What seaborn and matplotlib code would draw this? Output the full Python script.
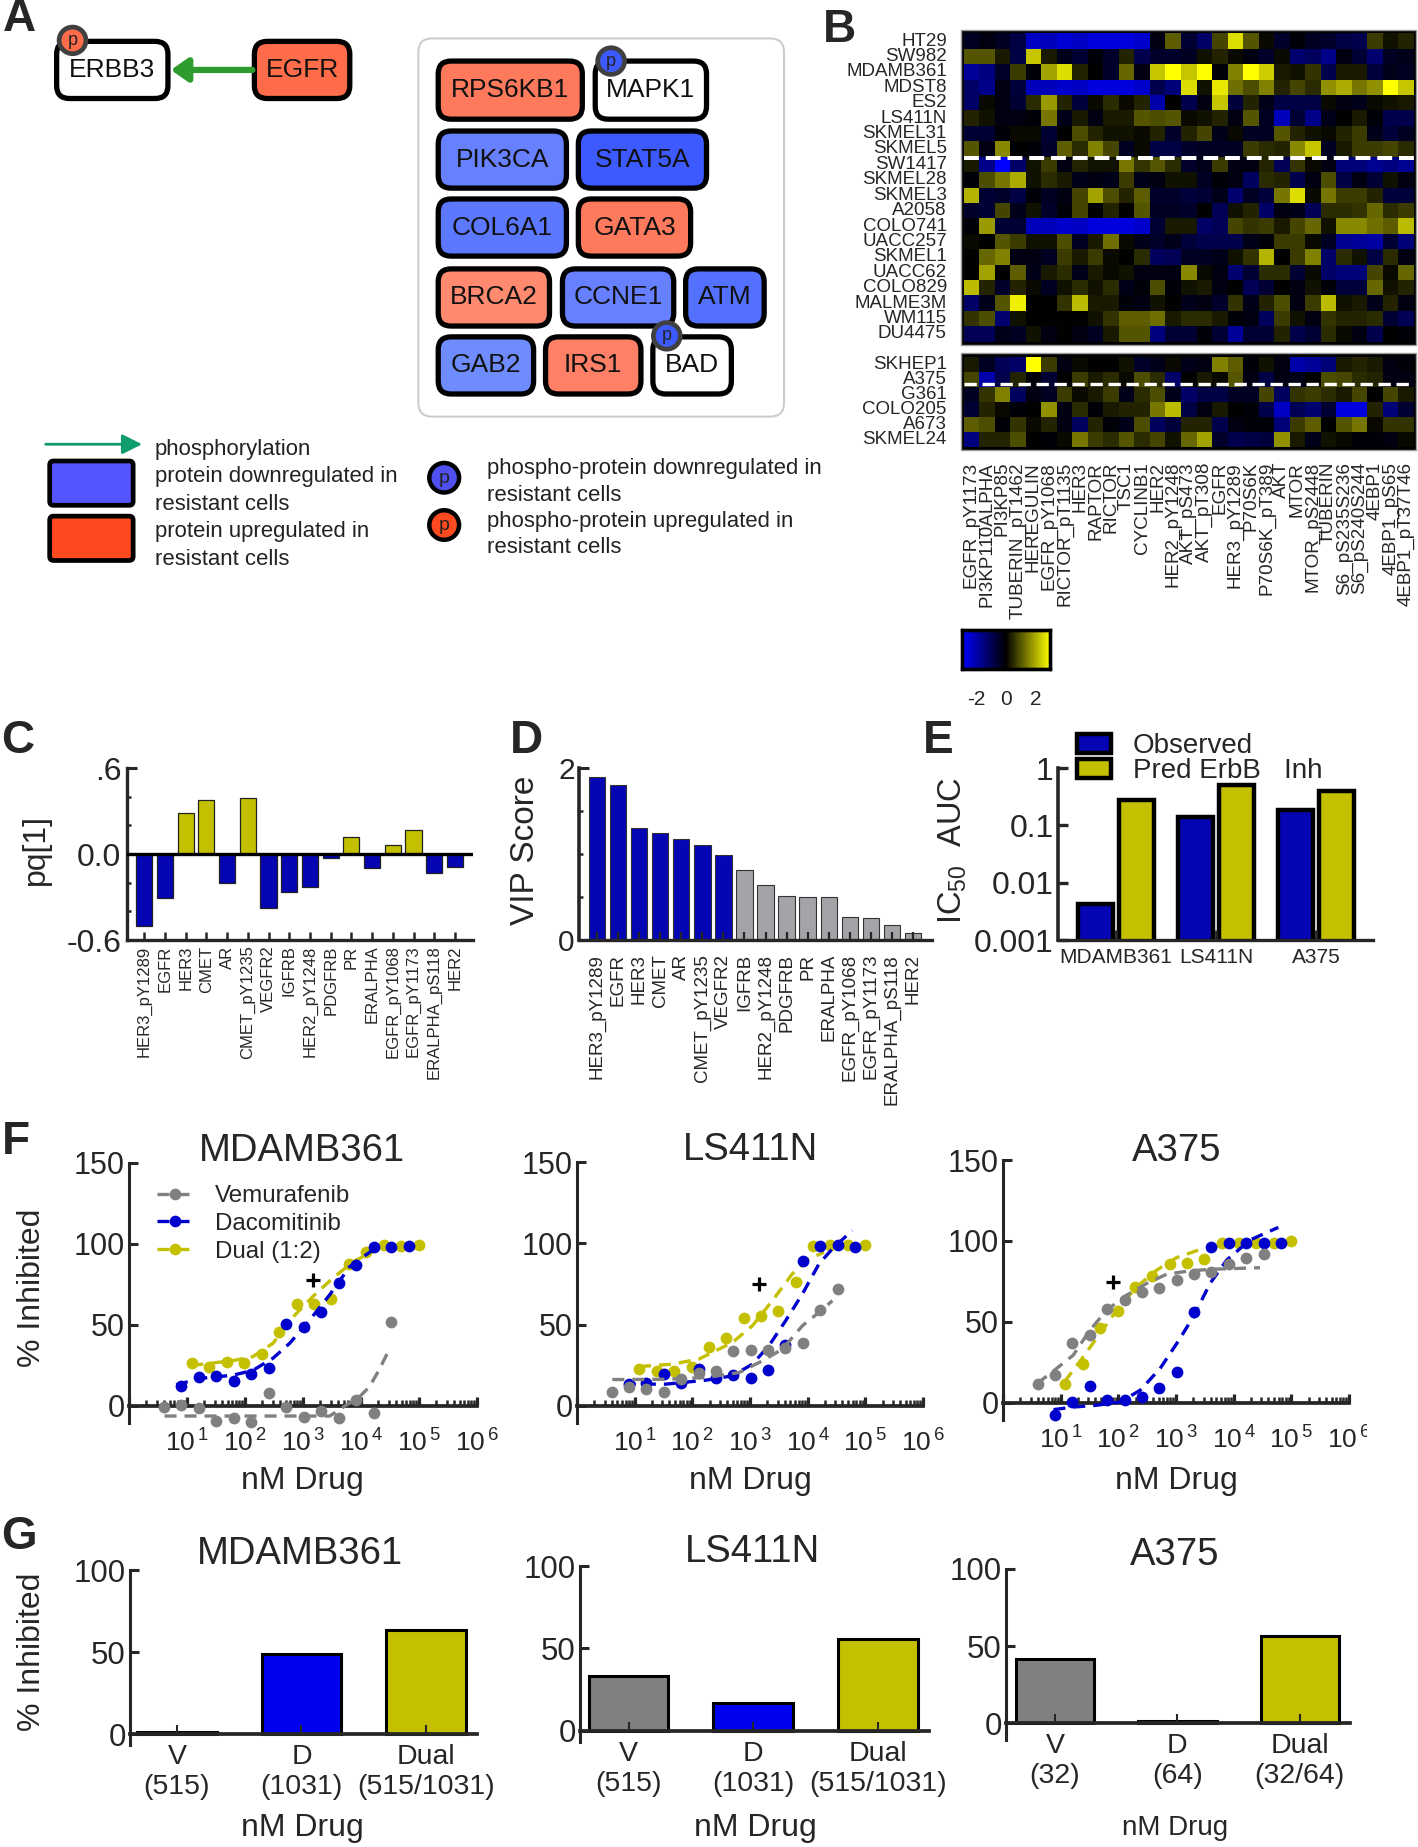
import numpy as np
import pandas as pd
import matplotlib
matplotlib.use("Agg")
import matplotlib.pyplot as plt
import seaborn as sns
from matplotlib.colors import LinearSegmentedColormap
from matplotlib.lines import Line2D
from matplotlib.patches import FancyBboxPatch, Patch, Rectangle, Circle
from matplotlib.ticker import LogLocator, NullFormatter
from matplotlib.transforms import Bbox

W, H = 1418, 1847

# panel B
cell_lines_top = ["HT29", "SW982", "MDAMB361", "MDST8", "ES2", "LS411N", "SKMEL31", "SKMEL5", "SW1417", "SKMEL28",
                  "SKMEL3", "A2058", "COLO741", "UACC257", "SKMEL1", "UACC62", "COLO829", "MALME3M", "WM115", "DU4475"]
cell_lines_bottom = ["SKHEP1", "A375", "G361", "COLO205", "A673", "SKMEL24"]
heat_proteins = ["EGFR_pY1173", "PI3KP110ALPHA", "PI3KP85", "TUBERIN_pT1462", "HEREGULIN", "EGFR_pY1068",
                 "RICTOR_pT1135", "HER3", "RAPTOR", "RICTOR", "TSC1", "CYCLINB1", "HER2", "HER2_pY1248", "AKT_pS473",
                 "AKT_pT308", "EGFR", "HER3_pY1289", "P70S6K", "P70S6K_pT389", "AKT", "MTOR", "MTOR_pS2448", "TUBERIN",
                 "S6_pS235S236", "S6_pS240S244", "4EBP1", "4EBP1_pS65", "4EBP1_pT37T46"]
heat_top = [
    [-.4, -.2, -.4, -.8, -2.3, -2.2, -2.5, -2.3, -2.6, -2.6, -2.6, -2.4, -.2, 1.1, -.6, -1.2, .8, 2.6, 1, .1, -.5, -.1, -.4, -.5, -.8, -.9, .7, .2, .4],
    [1, 1, .3, -.8, 2.3, .3, -.3, -.6, -.1, -.5, .4, -.9, -.5, -.5, -.4, .2, .4, .1, -.2, -.5, .1, -1.3, -1.1, -1.6, -.2, -.6, -1.3, -.4, -.3],
    [-1.8, -1.5, -.5, .7, -.1, 1.9, 2.6, .4, 0, -.5, 1.2, -.2, 2.3, 3, 2.3, 3, -.1, 1.5, 3, 2.4, .3, .2, .6, -.9, .3, .3, -.7, -.3, -.4],
    [-1.2, -1.6, -.2, -.7, -2.2, -2.2, -2.4, -2.3, -2.6, -2.6, -2.6, -2.4, -.9, -1.4, 2.6, .2, 2.7, 1.3, .9, 1.5, .4, .8, .5, 1.7, 2, 1.4, 1.7, 3, 2.3],
    [-1.2, .1, -.2, -.6, .5, 1.8, .4, -.7, .1, .5, .1, .4, -2, 0, -.9, -.2, 2.3, -.7, .4, -.3, -.8, -.8, -.8, .1, -.2, -.3, .1, .2, .3],
    [.4, .2, -.2, -.2, -.1, 1.4, -.3, .3, -.2, .3, .3, 1, .9, 1, .1, .2, .4, -.2, 1, -.4, -2.2, -.6, -1.6, -.3, 0, .3, -.1, -.9, -.9],
    [-.6, -.6, -.1, .1, .1, -.6, 0, .9, .4, .2, .2, .1, .4, -.5, .4, .8, -.3, .1, -.4, -.4, 1, .4, .2, .1, .4, .7, -.3, -.7, -.4],
    [1, -.2, 1.6, 0, -.1, -.5, 1.1, .5, 1.5, .8, -.4, .1, -.8, -.8, -.5, -.4, -.4, -.4, .7, .5, .4, 1.6, 2.3, -.4, .3, .7, .7, .8, .5],
    [.3, -1.6, -3, -1.2, .2, .7, -.2, .4, .2, .2, 1.4, .6, 1, .5, -.5, -.3, .7, -.2, -.2, .4, -1, .6, .1, -.2, -1.4, -1.4, -1.7, -1.5, -1.7],
    [-.1, .9, 1.4, 2, .2, .5, .3, -.3, -.2, -.3, .7, -.3, -.2, .2, .2, -.4, -.1, -.2, -1.1, .5, .4, -.9, -.2, .9, -.8, -.2, -.6, .2, -.2],
    [2.1, -.6, -.5, -.8, -.1, -.4, -.2, .8, 1.9, .9, .4, 1.1, -.5, -.5, -.7, -.6, -.3, -1.3, -.4, -.7, 1.4, 2.6, .1, 1.4, .7, .7, .4, -.7, -.7],
    [-.5, -.6, .8, -.3, .2, -.5, -.1, .8, 0, .4, 0, 1, -.4, -.4, -.5, 0, -1, .2, .4, -1.2, -.2, -.3, -1, .5, .5, .6, 1.2, .5, .7],
    [-.1, 1.8, -.6, -.6, -2.2, -2.2, -2.4, -2.3, -2.6, -2.6, -2.6, -2.4, -.6, .3, .3, -1.2, -1, .8, .6, .7, .3, .8, 1.2, .2, 1.6, 1.6, 1.3, 1.1, 2.2],
    [.1, 0, 1, .7, .2, .2, .9, -.4, .3, 1.3, .1, -.3, -.5, -.3, -.7, -.9, -.9, -.9, -.3, -.1, .7, .7, .1, -.4, -1.7, -1.8, -1.9, -.6, -1.4],
    [0, 1.2, 1.5, -.2, -.2, -.4, .7, .3, .7, .1, 0, .5, -1.1, -1, -.4, -.4, -.3, .2, .6, 2.1, 0, .7, 1.5, -1.2, .5, .2, -.8, .5, -.2],
    [0, 1.9, 0, 1.1, -.3, .3, .5, -.3, .3, .1, .2, -.2, -.2, -.2, 1.6, .1, -.2, -1.3, -.6, .5, .5, -.6, .1, -1.2, -1.4, -1.4, .8, .1, 1.2],
    [2.2, .4, -.5, .4, .1, -.4, .2, .5, .2, .5, -.3, -.1, .9, -.1, .2, .3, -.2, 0, -1, -.6, 0, -.2, .2, -.1, -.7, -.7, 1.2, .2, .4],
    [-1.2, -.3, 1, 2.8, 0, 0, .6, 2.2, .3, .3, -.1, -.2, .2, 0, -.3, -.2, -.5, .6, -.3, .4, .9, -.2, .7, 2.2, .2, .3, -.3, .4, -.2],
    [.6, .9, -1.3, .2, 0, 0, 0, 0, .2, .6, 1.1, 1.1, 1.3, .3, .5, .5, .3, -.1, -.2, -1.1, .7, .2, -.2, .6, .4, .4, .5, -.6, -1],
    [-1, -1, -.3, -.4, .2, -.2, 0, -.2, -.4, .3, 1, 1, -1.5, -.6, -.6, -.1, -.6, -1.8, -.6, -.6, .4, -.9, -.6, .5, .1, -.2, -.9, 0, -.1],
]
heat_bottom = [
    [.3, -.4, -1, -1.2, 3, .7, -.2, .1, 0, 0, .2, -.5, -.3, .1, -.3, -.2, 1.5, 1.1, -.1, .2, -.2, -2, -1.8, -1.4, .3, .4, .3, -.2, -.1],
    [.8, -2, -.9, .4, -.1, -.6, 0, .7, .3, .5, .1, .9, .5, -1.2, 0, .3, .1, 1, -.2, -.8, -.2, -.3, 0, .9, .8, .5, .4, -.2, -.2],
    [-.4, .6, 1.5, -1.1, -.2, -.4, .7, .1, .3, .7, -.3, .5, .9, -.3, -1.2, -.8, -.8, -.4, -.4, .8, -1.1, .6, .7, .5, .3, .8, 0, .8, .3],
    [-.6, .4, .1, -.1, 0, 1.7, -.2, .5, -.1, .3, .4, .4, 1.4, 2.2, -.8, -.2, .3, 0, -.1, -.9, -2.3, -1, -1.3, -.6, -2.6, -2.6, .4, -1.4, -.6],
    [1.1, .9, -.1, .6, .1, .4, -.2, -1.1, .4, -.1, -.3, .9, -1.1, -.7, .4, .4, -.9, -.2, -.1, -.1, -1.4, .7, 1.1, 0, 1, 1.4, .1, .6, .6],
    [-1.5, .4, .4, .9, 0, -.1, .1, 1.4, .7, .5, 1, .5, .8, .2, 1.2, 1.9, -.5, -.9, -.8, -.7, 1.7, .3, -.3, .2, .1, -.1, -.1, -.2, .1],
]

# panels C and D
rtk_names = ["HER3_pY1289", "EGFR", "HER3", "CMET", "AR", "CMET_pY1235", "VEGFR2", "IGFRB", "HER2_pY1248", "PDGFRB",
             "PR", "ERALPHA", "EGFR_pY1068", "EGFR_pY1173", "ERALPHA_pS118", "HER2"]
pq_values = [-.50, -.31, .285, .378, -.20, .39, -.378, -.267, -.227, -.03, .116, -.095, .065, .17, -.13, -.088]
vip_values = [1.90, 1.80, 1.30, 1.24, 1.18, 1.11, .99, .81, .64, .515, .50, .50, .27, .26, .175, .08]

# panel E
auc_lines = ["MDAMB361", "LS411N", "A375"]
auc_observed = [.0042, .14, .188]
auc_predicted = [.274, .50, .398]

# panel F, doses in nM
vem_dose = [4, 8, 16, 32, 64, 129, 258, 515, 1031, 2062, 4125, 8250, 16500, 33000]
dac_dose = [8, 16, 32, 64, 129, 258, 515, 1031, 2062, 4125, 8250, 16500, 33000, 66000]
dual_dose = [12, 24, 48, 97, 193, 387, 773, 1546, 3094, 6187, 12375, 24750, 49500, 99000]

mda_vem = [-.4, .6, -1.4, -9.1, -7.2, -10, 7.8, -.4, -6.6, -2.9, -7.6, 3.7, -4.1, 51.9]
mda_dac = [12.4, 17.7, 18.5, 15.7, 19.6, 23.7, 50.5, 49, 58.3, 76.2, 87.2, 98.1, 98.1, 98.5]
mda_dual = [26.4, 24.3, 27, 26.8, 32.1, 45.5, 63, 63, 66.1, 87.8, 95.2, 99.5, 98.9, 99.5]
ls_vem = [8.6, 11.9, 10.3, 8.6, 16.4, 20.5, 21.6, 33.5, 34.3, 34.3, 35.5, 38.6, 59.2, 72.1]
ls_dac = [13.4, 14.4, 19.5, 14, 22.6, 17, 18.9, 17, 22, 37.6, 89.4, 98.4, 98.8, 98]
ls_dual = [22.6, 21.2, 21.2, 24, 36.4, 41.7, 53.8, 55, 58.6, 76.4, 98.4, 99.2, 99.2, 99.2]
a375_vem = [12, 17.1, 37.1, 41.8, 58.3, 63.5, 68.6, 70.7, 75.8, 79.7, 81, 85.7, 89.2, 91.9]
a375_dac = [-7.4, .4, 10.3, 2.1, 2.1, 3.7, 9.5, 19.2, 56.3, 96.4, 98.9, 98.9, 98.9, 98.5]
a375_dual = [11.5, 24.3, 46, 56.9, 71.7, 78.3, 85.7, 86.5, 88.6, 98.9, 98.9, 98.9, 98.9, 99.9]

# dashed fits
mda_vem_fit_x = [4.1, 2900, 5600, 8860, 14100, 21000, 30400]
mda_vem_fit_y = [-6.2, -6.2, .6, 4.7, 12, 23, 34.6]
mda_dac_fit_x = [6.5, 16.5, 62, 137, 304, 589, 1300, 2880, 6380, 16100]
mda_dac_fit_y = [13, 17, 19, 22, 29.5, 38.7, 53, 68.6, 86, 96.4]
mda_dual_fit_x = [11.9, 62, 137, 304, 675, 1480, 3290, 7280, 18400]
mda_dual_fit_y = [25, 28, 30.5, 38.7, 55, 67.6, 79, 89, 96.4]
ls_vem_fit_x = [4.1, 34.5, 170, 645, 1640, 3640, 8090, 15700, 26800]
ls_vem_fit_y = [16.2, 16.4, 17.5, 20.5, 27.7, 34.9, 49.3, 57.5, 64.7]
ls_dac_fit_x = [6.5, 34.5, 170, 494, 1100, 2130, 4150, 8090, 15700, 26800, 59500]
ls_dac_fit_y = [13.4, 13.4, 15.8, 18.5, 25.7, 37, 52.4, 68.8, 87.3, 96.6, 107.9]
ls_dual_fit_x = [11.9, 45, 130, 494, 1100, 2440, 5420, 10500, 19200]
ls_dual_fit_y = [24.2, 25.7, 28.8, 39, 49.3, 64.7, 81.2, 90.4, 94.5]
a375_vem_fit_x = [3.9, 7.5, 16.5, 32, 63, 140, 310, 689, 1750, 4440, 28600]
a375_vem_fit_y = [12, 19.8, 29.5, 44.9, 57.3, 66.6, 73.8, 79.5, 81.6, 82.6, 83.5]
a375_dac_fit_x = [7.5, 16.5, 42, 107, 238, 528, 1030, 2000, 3890, 7560, 19200, 59500]
a375_dac_fit_y = [-4.1, -2.5, -1.4, .6, 7.8, 21.2, 36.7, 53.2, 73.8, 88.2, 100.6, 108.4]
a375_dual_fit_x = [11.6, 23.4, 48, 94, 208, 462, 1030, 2280, 5070, 8630]
a375_dual_fit_y = [13, 27.4, 42.9, 57.3, 71.7, 82, 89.8, 94, 96.4, 97.5]

plus_dose = [1487, 1450, 82]
plus_value = [77.9, 75, 74.4]

# panel G
mda_bar_labels = ["V\n(515)", "D\n(1031)", "Dual\n(515/1031)"]
ls_bar_labels = ["V\n(515)", "D\n(1031)", "Dual\n(515/1031)"]
a375_bar_labels = ["V\n(32)", "D\n(64)", "Dual\n(32/64)"]
mda_bar_values = [1.4, 48.8, 63.4]
ls_bar_values = [33.2, 17, 55.5]
a375_bar_values = [41.6, 1.7, 56.7]

# panel A
node_names = ["ERBB3", "EGFR", "RPS6KB1", "MAPK1", "PIK3CA", "STAT5A", "COL6A1", "GATA3", "BRCA2", "CCNE1", "ATM",
              "GAB2", "IRS1", "BAD"]

BAR_BLUE = "#0505B4"
GOLD = "#C4C000"
GREY = "#808080"
PURE_BLUE = "#0000F0"
DOT_BLUE = "#0000CC"

sns.set_style("ticks")
plt.rcParams["font.family"] = ["Liberation Sans", "DejaVu Sans"]
plt.rcParams["mathtext.default"] = "regular"
plt.rcParams["axes.unicode_minus"] = False

fig = plt.figure(figsize=(W / 100, H / 100), dpi=100)


def px_axes(left, top, right, bottom):
    return fig.add_axes([left / W, 1 - bottom / H, (right - left) / W, (bottom - top) / H])


def place_labels(ax, box, title=None, title_xy=None, title_size=27.5, xlabel=None, xlabel_xy=None, xlabel_size=23,
                 ylabel=None, ylabel_xy=None, ylabel_size=23):
    left, top, right, bottom = box
    def to_axes(xy):
        return (xy[0] - left) / (right - left), (bottom - xy[1]) / (bottom - top)
    if title:
        tx, ty = to_axes(title_xy)
        ax.set_title(title, x=tx, y=ty, fontsize=title_size, va="center", ha="center", pad=0)
    if xlabel:
        ax.set_xlabel(xlabel, fontsize=xlabel_size, va="center", ha="center")
        ax.xaxis.set_label_coords(*to_axes(xlabel_xy))
    else:
        ax.set_xlabel("")
    if ylabel:
        ax.set_ylabel(ylabel, fontsize=ylabel_size, va="center", ha="center")
        ax.yaxis.set_label_coords(*to_axes(ylabel_xy))
    else:
        ax.set_ylabel("")


def base_style(ax, left_w=2.2, bottom_w=2.3):
    sns.despine(ax=ax)
    ax.spines["left"].set_linewidth(left_w)
    ax.spines["bottom"].set_linewidth(bottom_w)
    ax.set_axisbelow(False)


# overlay in pixels for the letters and the heatmap frames
ov = fig.add_axes([0, 0, 1, 1])
ov.set_xlim(0, W)
ov.set_ylim(H, 0)
ov.axis("off")

for letter, lx, ly in [("A", 19, 19), ("B", 839, 30), ("C", 18, 741), ("D", 526, 741), ("E", 938, 741),
                       ("F", 16, 1142), ("G", 19, 1537)]:
    ov.text(lx, ly, letter, fontsize=33, fontweight="bold", ha="center", va="center")

# panel A diagram layer, read at a slightly different scale
ova = fig.add_axes([0, 0, 1, 1])
ova.set_xlim(0, W / .9937)
ova.set_ylim(H / .985, 0)
ova.axis("off")

UP = "#FF6C4A"
node_boxes = [(54, 39, 172, 103, "white"), (253, 39, 355, 103, UP),
              (438, 59, 589, 124, "#FF7A5C"), (596, 59, 714, 124, "white"),
              (438, 130, 573, 194, "#6680FF"), (579, 130, 714, 194, "#3C5AFF"),
              (438, 199, 573, 263, "#5C78FF"), (579, 199, 698, 263, "#FF7A5C"),
              (438, 270, 556, 334, "#FF8A70"), (563, 270, 681, 334, "#6680FF"), (687, 270, 772, 334, "#5470FF"),
              (438, 339, 540, 403, "#6F8CFF"), (546, 339, 648, 403, "#FF8066"), (654, 339, 739, 403, "white")]

ova.add_patch(FancyBboxPatch((421, 39), 368, 384, boxstyle="round,pad=0,rounding_size=14", fc="white", ec="#CCCCCC", lw=1.5))
ova.annotate("", xy=(172, 71), xytext=(254, 71),
             arrowprops=dict(arrowstyle="-|>,head_width=0.35,head_length=0.5", color="#2E9B2E", lw=4.5,
                             mutation_scale=20, shrinkA=0, shrinkB=0))
for name, (x0, y0, x1, y1, colour) in zip(node_names, node_boxes):
    ova.add_patch(FancyBboxPatch((x0 + 3, y0 + 3), x1 - x0 - 6, y1 - y0 - 6, boxstyle="round,pad=0,rounding_size=13",
                                 fc=colour, ec="black", lw=3.8))
    ova.text((x0 + x1) / 2, (y0 + y1) / 2, name, fontsize=19, ha="center", va="center", color="#111111")

for cx, cy, colour in [(73, 41, UP), (615, 62, "#3C5AFF"), (671, 341, "#3C5AFF")]:
    ova.add_patch(Circle((cx, cy), 13.5, fc=colour, ec="#404040", lw=3.4))
    ova.text(cx, cy, "p", fontsize=13, ha="center", va="center", color="#222222")

# panel A key
ova.annotate("", xy=(143, 451), xytext=(46, 451),
             arrowprops=dict(arrowstyle="-|>,head_width=0.3,head_length=0.6", color="#0F9D6B", lw=2,
                             mutation_scale=20, shrinkA=0, shrinkB=0))
for y0, y1, colour in [(466, 515, "#5555FF"), (522, 571, "#FF4A1F")]:
    ova.add_patch(FancyBboxPatch((50, y0 + 2), 84, y1 - y0 - 4, boxstyle="round,pad=0,rounding_size=4", fc=colour,
                                 ec="black", lw=3.4))
for text, tx, ty in [("phosphorylation", 156, 456), ("protein downregulated in", 156, 484), ("resistant cells", 156, 512),
                     ("protein upregulated in", 156, 540), ("resistant cells", 156, 568),
                     ("phospho-protein downregulated in", 490, 476), ("resistant cells", 490, 503),
                     ("phospho-protein upregulated in", 490, 529), ("resistant cells", 490, 556)]:
    ova.text(tx, ty, text, fontsize=15.9, ha="left", va="center", color="#222222")
for cy, colour in [(485, "#5050F0"), (533, "#FF4A1F")]:
    ova.add_patch(Circle((447, cy), 15, fc=colour, ec="black", lw=3.2))
    ova.text(447, cy + 1, "p", fontsize=14, ha="center", va="center", color="#222222")

# panel B frames sit behind the heatmaps
ov.add_patch(Rectangle((961, 30), 455, 315, fc="black", ec="#999999", lw=1))
ov.add_patch(Rectangle((961, 353), 455, 97, fc="black", ec="#999999", lw=1))

heat_cmap = LinearSegmentedColormap.from_list("blue_black_yellow", ["#0000FF", "#000000", "#FFFF00"])
top_df = pd.DataFrame(heat_top, index=cell_lines_top, columns=heat_proteins)
bottom_df = pd.DataFrame(heat_bottom, index=cell_lines_bottom, columns=heat_proteins)

ax_top = px_axes(963.5, 33.3, 1414, 341.7)
ax_bot = px_axes(963.5, 356.7, 1414, 446.7)
cax = px_axes(962, 630, 1050, 669)

sns.heatmap(top_df, ax=ax_top, cmap=heat_cmap, vmin=-3, vmax=3, cbar=True, cbar_ax=cax,
            cbar_kws={"orientation": "horizontal", "ticks": [-2, 0, 2]}, xticklabels=False, yticklabels=True)
sns.heatmap(bottom_df, ax=ax_bot, cmap=heat_cmap, vmin=-3, vmax=3, cbar=False, xticklabels=True, yticklabels=True)
for ax in (ax_top, ax_bot):
    ax.tick_params(axis="y", length=0, pad=12, labelsize=13.5, labelrotation=0)
    ax.tick_params(axis="x", length=0)
ax_bot.tick_params(axis="x", pad=11, labelsize=13.6)
for lab in ax_bot.get_xticklabels():
    lab.set_rotation(90)
    lab.set_ha("center")
    lab.set_va("top")
ax_top.axhline(8.08, color="white", lw=2.9, linestyle=(0, (3.7, 1.7)))
ax_bot.axhline(1.83, color="white", lw=2.4, linestyle=(0, (3.7, 1.7)))

cax.tick_params(axis="x", which="major", direction="in", top=True, bottom=True, length=4.5, width=1.8, color="black",
                labelsize=15, pad=15)
cax.minorticks_off()
for sp in cax.spines.values():
    sp.set_visible(True)
    sp.set_linewidth(2.4)
    sp.set_edgecolor("black")

# panel C
box = (127, 768, 473, 940)
ax_c = px_axes(*box)
pq_colors = [GOLD if v > 0 else BAR_BLUE for v in pq_values]
sns.barplot(x=rtk_names, y=pq_values, hue=rtk_names, palette=pq_colors, legend=False, saturation=1, width=.78,
            edgecolor="#222222", linewidth=.9, ax=ax_c)
ax_c.set_xlim(-.83, 15.87)
ax_c.set_ylim(-.6, .6)
base_style(ax_c, left_w=2.4, bottom_w=2.4)
ax_c.axhline(0, color="black", lw=2.4, zorder=3)
ax_c.set_yticks([-.6, 0, .6])
ax_c.set_yticklabels(["-0.6", "0.0", ".6"])
ax_c.set_yticks([-.4, -.2, .2, .4], minor=True)
ax_c.tick_params(axis="y", which="major", direction="in", length=7, width=2.2, labelsize=23, pad=4)
ax_c.tick_params(axis="y", which="minor", direction="in", length=3, width=1.8, left=True)
ax_c.tick_params(axis="x", direction="in", length=6, width=1.8, labelsize=12, rotation=90, pad=4)
place_labels(ax_c, box, ylabel="pq[1]", ylabel_xy=(36, 849), ylabel_size=23)

# panel D
box = (579, 768, 932, 940)
ax_d = px_axes(*box)
vip_colors = [BAR_BLUE if v >= .9 else "#A3A3A8" for v in vip_values]
sns.barplot(x=rtk_names, y=vip_values, hue=rtk_names, palette=vip_colors, legend=False, saturation=1, width=.78,
            edgecolor="#333333", linewidth=.8, ax=ax_d)
ax_d.set_xlim(-.854, 15.9)
ax_d.set_ylim(0, 2)
base_style(ax_d, left_w=2.6, bottom_w=2.4)
ax_d.set_yticks([0, 2])
ax_d.set_yticks([.5, 1, 1.5], minor=True)
ax_d.tick_params(axis="y", which="major", direction="in", length=7, width=2.2, labelsize=21.5, pad=3)
ax_d.tick_params(axis="y", which="minor", direction="in", length=3, width=1.8, left=True)
ax_d.tick_params(axis="x", direction="in", length=6, width=1.6, labelsize=13.5, rotation=90, pad=10)
place_labels(ax_d, box, ylabel="VIP Score", ylabel_xy=(526, 850), ylabel_size=24)

# panel E
box = (1058, 768, 1373, 940)
ax_e = px_axes(*box)
ax_e.set_yscale("log")
auc_df = pd.DataFrame({"line": auc_lines * 2, "auc": auc_observed + auc_predicted,
                       "kind": ["Observed"] * 3 + ["Pred ErbB   Inh"] * 3})
sns.barplot(data=auc_df, x="line", y="auc", hue="kind", palette=[BAR_BLUE, GOLD], saturation=1, width=.82, gap=.13,
            edgecolor="black", linewidth=3.2, legend=False, ax=ax_e)
ax_e.set_xlim(-.58, 2.57)
ax_e.set_ylim(.001, 1)
base_style(ax_e, left_w=2.6, bottom_w=2.4)
ax_e.set_yticks([.001, .01, .1, 1])
ax_e.set_yticklabels(["0.001", "0.01", "0.1", "1"])
ax_e.minorticks_off()
ax_e.tick_params(axis="y", direction="in", length=7, width=2.4, labelsize=23, pad=3)
ax_e.tick_params(axis="x", direction="in", length=7, width=2, labelsize=15, pad=6)
place_labels(ax_e, box, ylabel="IC$_{50}$  AUC", ylabel_xy=(953, 850), ylabel_size=23.5)
ax_e.legend(handles=[Patch(fc=BAR_BLUE, ec="black", lw=3.2, label="Observed"),
                     Patch(fc=GOLD, ec="black", lw=3.2, label="Pred ErbB   Inh")],
            loc="upper left", bbox_to_anchor=((1077 - 1058) / 315, (940 - 733) / 172), frameon=False, fontsize=20,
            handlelength=1.22, handleheight=.65, handletextpad=.8, labelspacing=-.02, borderpad=0, borderaxespad=0)

# panel F
dose_panels = [
    ("MDAMB361", (129, 1163, 477, 1423), mda_vem, mda_dac, mda_dual,
     (mda_vem_fit_x, mda_vem_fit_y), (mda_dac_fit_x, mda_dac_fit_y), (mda_dual_fit_x, mda_dual_fit_y),
     (302, 1151), (302, 1481)),
    ("LS411N", (577, 1162, 923, 1423), ls_vem, ls_dac, ls_dual,
     (ls_vem_fit_x, ls_vem_fit_y), (ls_dac_fit_x, ls_dac_fit_y), (ls_dual_fit_x, ls_dual_fit_y),
     (750, 1150), (750, 1481)),
    ("A375", (1003, 1160, 1349, 1420), a375_vem, a375_dac, a375_dual,
     (a375_vem_fit_x, a375_vem_fit_y), (a375_dac_fit_x, a375_dac_fit_y), (a375_dual_fit_x, a375_dual_fit_y),
     (1177, 1151), (1176, 1481)),
]
fit_dash = (0, (3.6, 2.4))
dose_ticks = [1, 10, 100, 1000, 1e4, 1e5, 1e6]
dose_tick_labels = ["", "10$^{\\,1}$", "10$^{\\,2}$", "10$^{\\,3}$", "10$^{\\,4}$", "10$^{\\,5}$", "10$^{\\,6}$"]

for i, (name, box, vem, dac, dual, vem_fit, dac_fit, dual_fit, title_xy, xlabel_xy) in enumerate(dose_panels):
    ax = px_axes(*box)
    ax.set_xscale("log")
    for doses, values, fit, colour in [(dual_dose, dual, dual_fit, GOLD), (dac_dose, dac, dac_fit, DOT_BLUE),
                                       (vem_dose, vem, vem_fit, GREY)]:
        sns.scatterplot(x=doses, y=values, color=colour, s=72, linewidth=0, clip_on=False, zorder=3, ax=ax)
        sns.lineplot(x=fit[0], y=fit[1], color=colour, lw=2.4, linestyle=fit_dash, errorbar=None, zorder=3, ax=ax)
    ax.plot(plus_dose[i], plus_value[i], marker="+", ms=10, mew=2.3, color="black", zorder=4)
    ax.set_xlim(1, 1e6)
    ax.set_ylim(-10.5, 150)
    base_style(ax, bottom_w=2.7)
    ax.spines["bottom"].set_position(("data", 0))
    ax.set_yticks([0, 50, 100, 150])
    ax.tick_params(axis="y", direction="in", length=6.5, width=2.2, labelsize=22, pad=3)
    ax.set_xticks(dose_ticks)
    ax.set_xticklabels(dose_tick_labels)
    ax.xaxis.set_minor_locator(LogLocator(base=10, subs=range(2, 10), numticks=12))
    ax.xaxis.set_minor_formatter(NullFormatter())
    ax.tick_params(axis="x", which="major", direction="in", length=6.5, width=2.3, labelsize=19, pad=17)
    ax.tick_params(axis="x", which="minor", direction="in", length=4, width=1.8, bottom=True)
    place_labels(ax, box, title=name, title_xy=title_xy, xlabel="nM Drug", xlabel_xy=xlabel_xy,
                 ylabel="% Inhibited" if i == 0 else None, ylabel_xy=(32, 1288))
    if i == 0:
        handles = [Line2D([], [], color=c, lw=2.4, linestyle=fit_dash, marker="o", ms=8.4, mew=0, label=lab)
                   for c, lab in [(GREY, "Vemurafenib"), (DOT_BLUE, "Dacomitinib"), (GOLD, "Dual (1:2)")]]
        ax.legend(handles=handles, loc="upper left", bbox_to_anchor=((157 - 129) / 348, (1423 - 1185) / 260),
                  frameon=False, fontsize=17.4, handlelength=1.5, handletextpad=.9, labelspacing=.24, borderpad=0,
                  borderaxespad=0)
    if i == 2:
        # the last tick label runs off the edge of the panel in the source figure
        for lab in ax.get_xticklabels():
            lab.set_clip_box(Bbox.from_extents(0, 0, 1367, H))
            lab.set_clip_on(True)

# panel G
bar_panels = [
    ("MDAMB361", (130, 1570, 477, 1745), mda_bar_labels, mda_bar_values, (-.377, 2.41), -6.7, [GREY, PURE_BLUE, GOLD],
     (300, 1554), (302, 1828), 23),
    ("LS411N", (580, 1566, 929, 1742), ls_bar_labels, ls_bar_values, (-.39, 2.41), -6.7, [GREY, PURE_BLUE, GOLD],
     (752, 1552), (755, 1828), 23),
    ("A375", (1006, 1569, 1350, 1740), a375_bar_labels, a375_bar_values, (-.40, 2.41), -10.8, [GREY, PURE_BLUE, GOLD],
     (1175, 1555), (1175, 1828), 20),
]
for i, (name, box, labels, values, xlim, ymin, colours, title_xy, xlabel_xy, xsize) in enumerate(bar_panels):
    ax = px_axes(*box)
    sns.barplot(x=labels, y=values, hue=labels, palette=colours, legend=False, saturation=1, width=.64,
                edgecolor="black", linewidth=2.2, ax=ax)
    ax.set_xlim(*xlim)
    ax.set_ylim(ymin, 100)
    base_style(ax, bottom_w=2.7)
    ax.spines["bottom"].set_position(("data", 0))
    ax.set_yticks([0, 50, 100])
    ax.tick_params(axis="y", direction="in", length=6.5, width=2.2, labelsize=22.5, pad=3)
    ax.tick_params(axis="x", direction="in", length=6.5, width=1.5, labelsize=20.5, pad=7)
    for lab in ax.get_xticklabels():
        lab.set_linespacing(1.22)
    place_labels(ax, box, title=name, title_xy=title_xy, xlabel="nM Drug", xlabel_xy=xlabel_xy, xlabel_size=xsize,
                 ylabel="% Inhibited" if i == 0 else None, ylabel_xy=(32, 1652))

fig.savefig("out.png", dpi=100)
